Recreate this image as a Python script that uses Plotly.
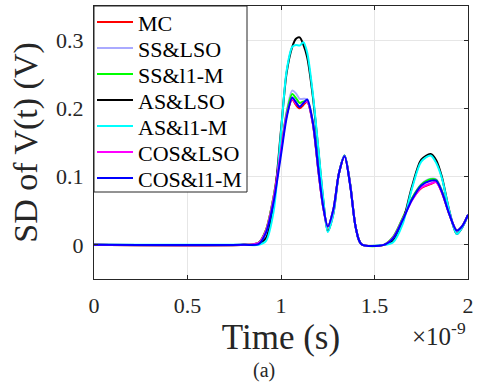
import plotly.graph_objects as go

# time in ns (axis shows x10^-9 s)
t = [0.0, 0.8, 0.88, 0.92, 0.96, 1.0, 1.03, 1.06, 1.08, 1.1, 1.12, 1.14, 1.17, 1.2, 1.225,
     1.25, 1.28, 1.31, 1.34, 1.37, 1.4, 1.43, 1.55, 1.6, 1.65, 1.7, 1.75, 1.8, 1.83, 1.86,
     1.9, 1.94, 1.97, 2.0]

mc      = [0, 0, 0.003, 0.022, 0.07, 0.14, 0.19, 0.213, 0.205, 0.200, 0.205, 0.210, 0.178, 0.108, 0.056,
           0.027, 0.052, 0.105, 0.130, 0.088, 0.025, 0.001, 0.0, 0.011, 0.038, 0.066, 0.083, 0.089, 0.092, 0.077,
           0.045, 0.021, 0.028, 0.044]
ss_lso  = [0, 0, 0.002, 0.02, 0.068, 0.138, 0.195, 0.226, 0.222, 0.214, 0.214, 0.213, 0.181, 0.110, 0.057,
           0.027, 0.051, 0.105, 0.130, 0.088, 0.025, 0.001, 0.0, 0.011, 0.038, 0.068, 0.089, 0.097, 0.096, 0.080,
           0.046, 0.021, 0.028, 0.044]
ss_l1m  = [0, 0, 0.003, 0.022, 0.07, 0.14, 0.193, 0.221, 0.215, 0.208, 0.210, 0.210, 0.179, 0.109, 0.057,
           0.027, 0.051, 0.105, 0.130, 0.088, 0.025, 0.001, 0.0, 0.012, 0.039, 0.068, 0.088, 0.096, 0.095, 0.079,
           0.045, 0.021, 0.028, 0.044]
as_lso  = [0, 0, 0.001, 0.01, 0.058, 0.168, 0.252, 0.290, 0.302, 0.304, 0.293, 0.275, 0.218, 0.138, 0.068,
           0.020, 0.046, 0.105, 0.131, 0.089, 0.025, 0.001, 0.0, 0.006, 0.033, 0.085, 0.125, 0.133, 0.124, 0.100,
           0.050, 0.016, 0.026, 0.044]
as_l1m  = [0, 0, 0.0, 0.006, 0.048, 0.165, 0.255, 0.290, 0.293, 0.292, 0.297, 0.282, 0.222, 0.141, 0.070,
           0.019, 0.045, 0.105, 0.131, 0.089, 0.025, 0.001, 0.0, 0.004, 0.030, 0.082, 0.122, 0.131, 0.120, 0.098,
           0.050, 0.016, 0.026, 0.044]
cos_lso = [0, 0, 0.003, 0.021, 0.068, 0.138, 0.19, 0.214, 0.207, 0.203, 0.208, 0.210, 0.178, 0.108, 0.056,
           0.027, 0.051, 0.105, 0.130, 0.088, 0.025, 0.001, 0.0, 0.011, 0.037, 0.065, 0.084, 0.090, 0.092, 0.077,
           0.045, 0.021, 0.028, 0.044]
cos_l1m = [0, 0, 0.001, 0.018, 0.062, 0.132, 0.186, 0.216, 0.209, 0.202, 0.208, 0.213, 0.180, 0.110, 0.057,
           0.027, 0.052, 0.105, 0.130, 0.087, 0.025, 0.001, 0.0, 0.010, 0.036, 0.066, 0.087, 0.094, 0.094, 0.078,
           0.045, 0.021, 0.028, 0.044]

names = ["MC", "SS&LSO", "SS&l1-M", "AS&LSO", "AS&l1-M", "COS&LSO", "COS&l1-M"]
series = [mc, ss_lso, ss_l1m, as_lso, as_l1m, cos_lso, cos_l1m]
colors = ["#ff0000", "#aaaaff", "#00ff00", "#000000", "#00ffff", "#ff00ff", "#0000ff"]

x_ticks = [0, 0.5, 1, 1.5, 2]
x_ticktext = ["0", "0.5", "1", "1.5", "2"]
y_ticks = [0, 0.1, 0.2, 0.3]
y_ticktext = ["0", "0.1", "0.2", "0.3"]

FONT = "Liberation Serif, Times New Roman, serif"
INK = "#262626"

W, H = 482, 388
L, R, T, B = 94, 14, 6, 109
PW, PH = W - L - R, H - T - B


def px_x(p):  # pixel -> paper x
    return (p - L) / PW


def px_y(p):  # pixel -> paper y
    return (H - B - p) / PH


fig = go.Figure()
for n, s, c in zip(names, series, colors):
    fig.add_trace(go.Scatter(x=t, y=s, mode="lines", name=n, showlegend=False,
                             line=dict(color=c, width=2, shape="spline", smoothing=0.8)))

# legend drawn as a boxed key in paper space
shapes = [dict(type="rect", xref="paper", yref="paper",
               x0=px_x(94), x1=px_x(247), y0=px_y(192), y1=px_y(6),
               line=dict(color=INK, width=1), fillcolor="white", layer="above")]
annotations = []
for i, (n, c) in enumerate(zip(names, colors)):
    yc = 22 + 26 * i
    shapes.append(dict(type="line", xref="paper", yref="paper",
                       x0=px_x(97), x1=px_x(133), y0=px_y(yc), y1=px_y(yc),
                       line=dict(color=c, width=2), layer="above"))
    annotations.append(dict(text=n, xref="paper", yref="paper", x=px_x(136), y=px_y(yc + 1),
                            xanchor="left", yanchor="middle", showarrow=False,
                            font=dict(family=FONT, size=22, color="black")))

annotations += [
    dict(text="×10<sup>-9</sup>", xref="paper", yref="paper", x=px_x(468), y=px_y(334),
         xanchor="right", yanchor="middle", showarrow=False,
         font=dict(family=FONT, size=25, color=INK)),
    dict(text="(a)", xref="paper", yref="paper", x=px_x(264), y=px_y(370),
         xanchor="center", yanchor="middle", showarrow=False,
         font=dict(family=FONT, size=20, color=INK)),
]

fig.update_layout(
    width=W, height=H,
    margin=dict(l=L, r=R, t=T, b=B, autoexpand=False),
    paper_bgcolor="white", plot_bgcolor="white",
    font=dict(family=FONT, color=INK),
    showlegend=False,
    shapes=shapes,
    annotations=annotations,
    xaxis=dict(range=[0, 2], tickvals=x_ticks, ticktext=x_ticktext, automargin=False,
               showline=True, linecolor=INK, linewidth=1, mirror="ticks",
               ticks="inside", ticklen=4, tickcolor=INK, ticklabelstandoff=7,
               showgrid=True, gridcolor="#e6e6e6", gridwidth=1, zeroline=False,
               tickfont=dict(family=FONT, size=22, color=INK),
               title=dict(text="Time (s)", font=dict(family=FONT, size=35, color=INK),
                          standoff=3)),
    yaxis=dict(range=[-0.05, 0.35], tickvals=y_ticks, ticktext=y_ticktext, automargin=False,
               showline=True, linecolor=INK, linewidth=1, mirror="ticks",
               ticks="inside", ticklen=4, tickcolor=INK, ticklabelstandoff=5,
               showgrid=True, gridcolor="#e6e6e6", gridwidth=1, zeroline=False,
               tickfont=dict(family=FONT, size=22, color=INK),
               title=dict(text="SD of V(t) (V)", font=dict(family=FONT, size=34, color=INK),
                          standoff=8)),
)

fig.write_html("out.html", config={"displayModeBar": False},
               post_script="document.body.style.margin='0';document.body.style.padding='0';")
